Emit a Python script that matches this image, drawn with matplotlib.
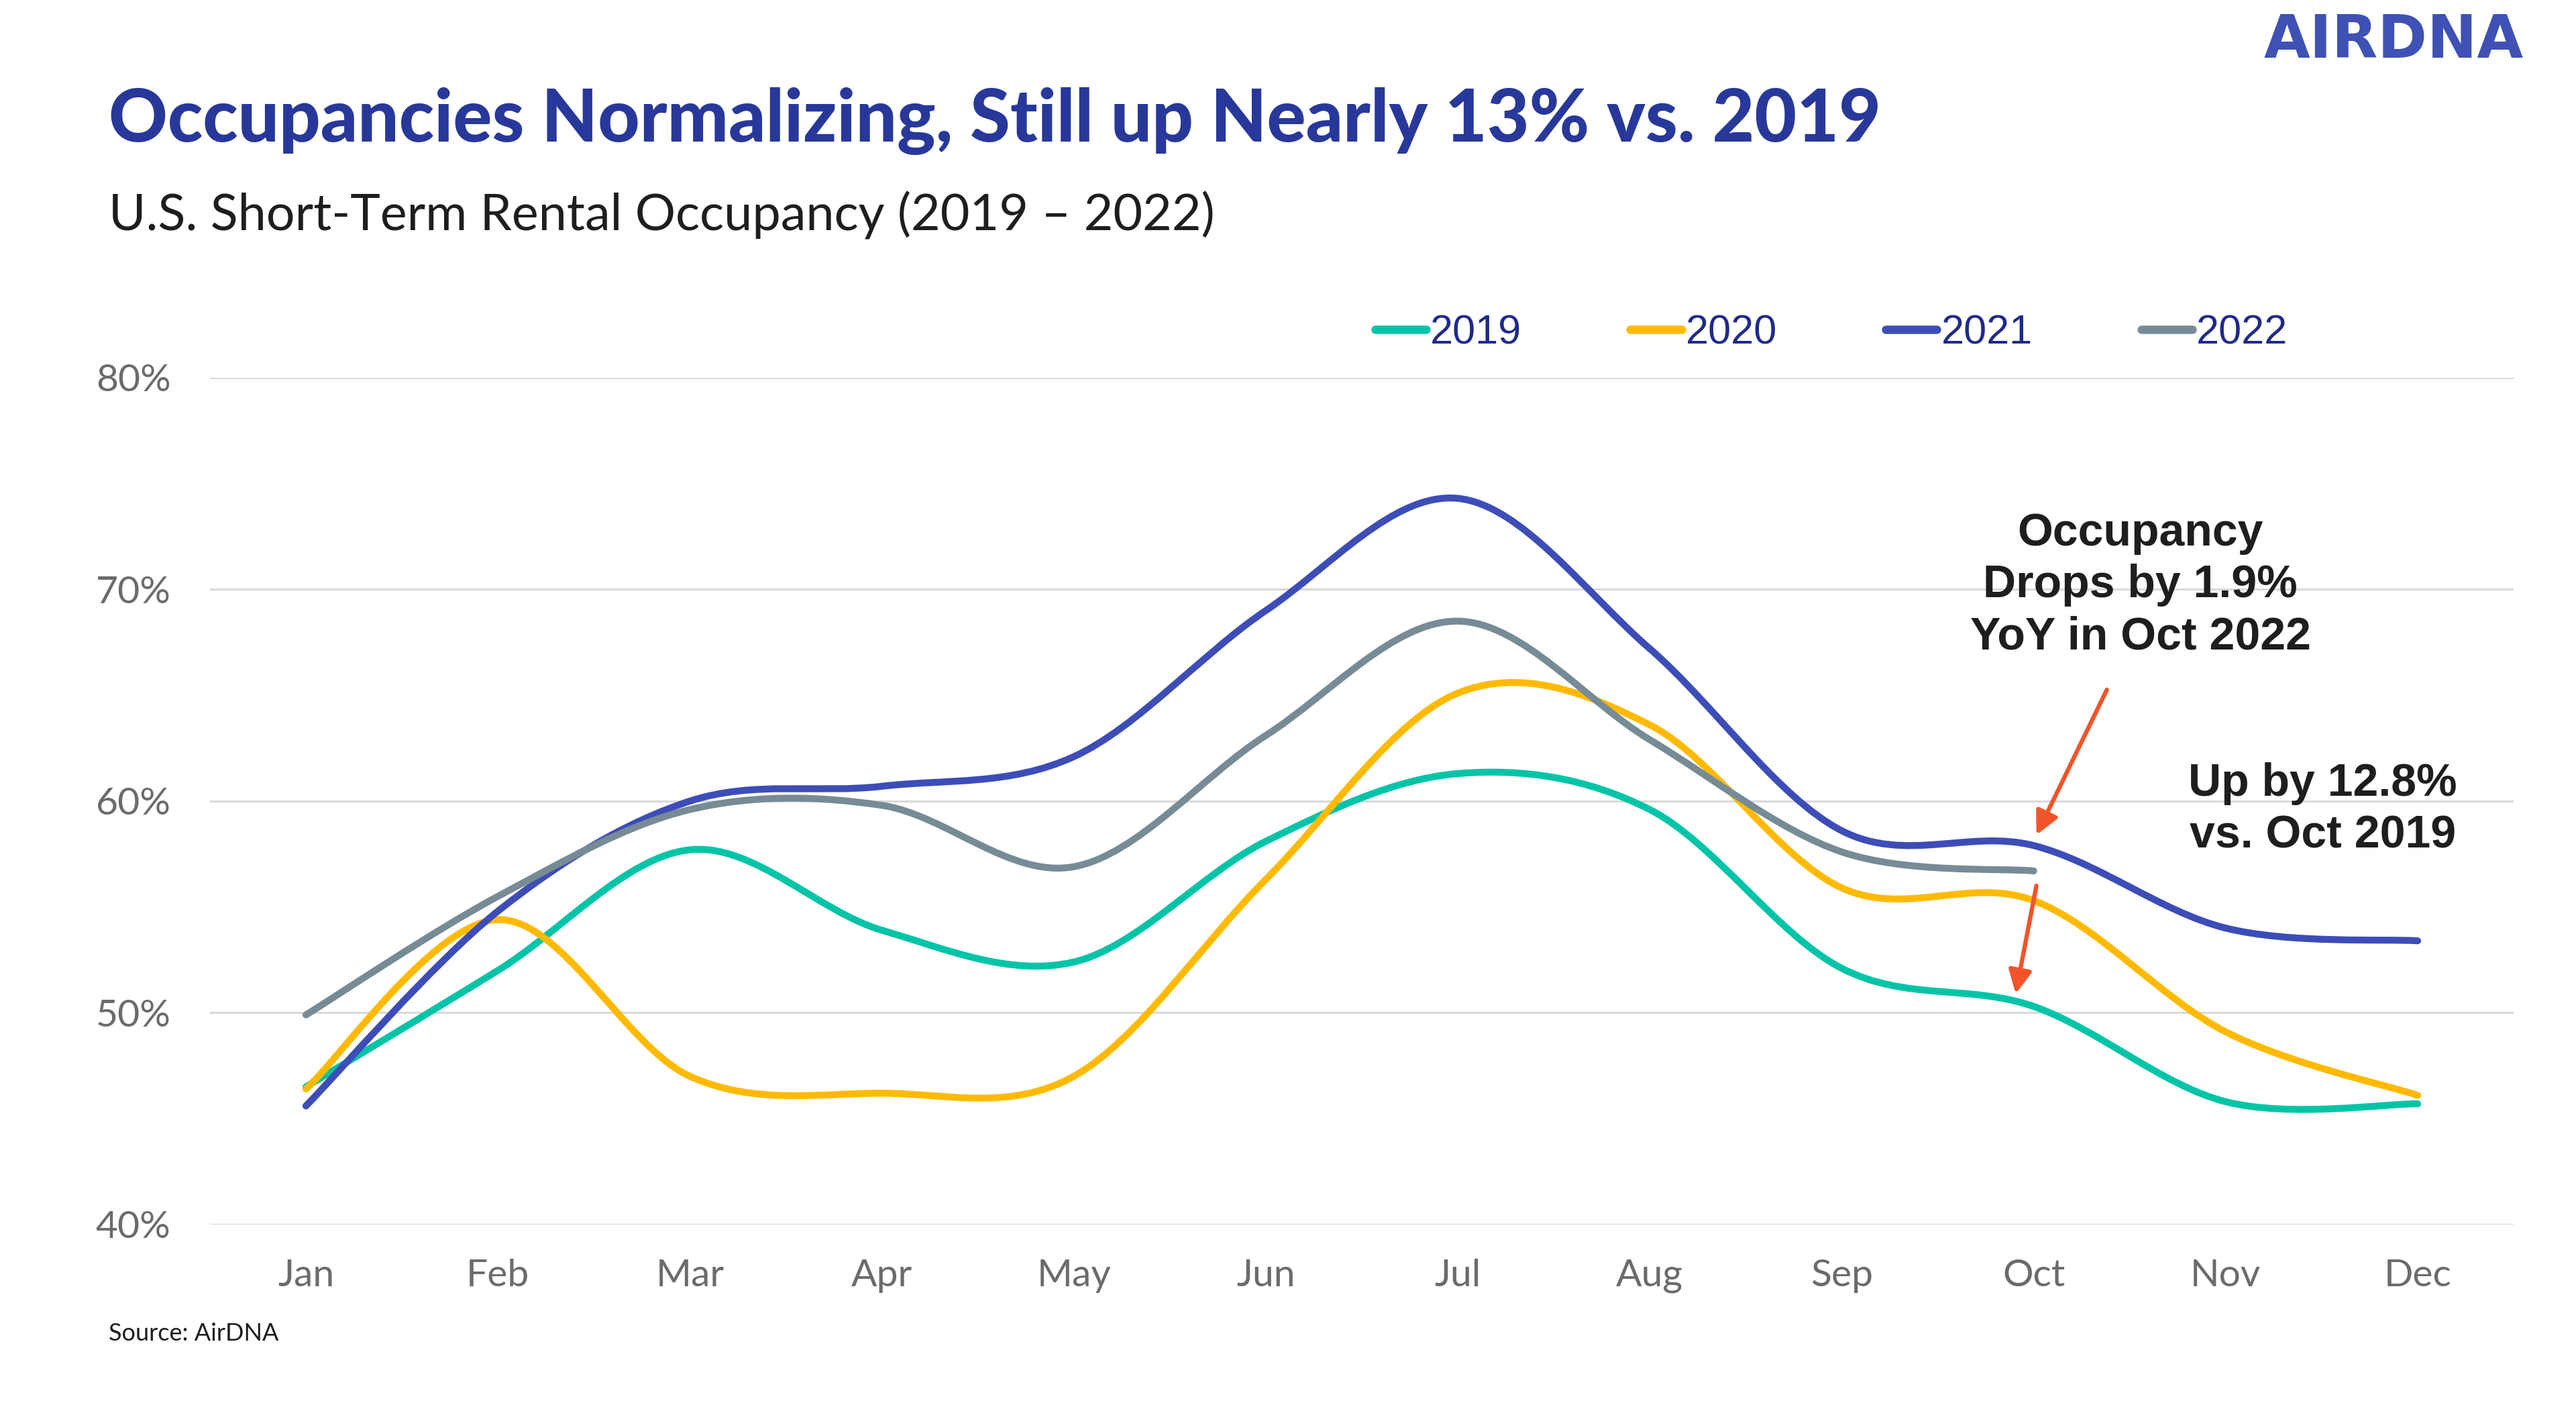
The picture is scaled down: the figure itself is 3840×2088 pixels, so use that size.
import matplotlib
matplotlib.use("Agg")
import matplotlib.pyplot as plt
from matplotlib.path import Path
from matplotlib.patches import PathPatch
from matplotlib.lines import Line2D
import numpy as np

months = ["Jan", "Feb", "Mar", "Apr", "May", "Jun", "Jul", "Aug", "Sep", "Oct", "Nov", "Dec"]
occ_2019 = [46.5, 52.0, 57.7, 53.9, 52.4, 58.1, 61.3, 59.6, 52.1, 50.3, 45.8, 45.7]
occ_2020 = [46.4, 54.4, 47.0, 46.2, 47.0, 56.3, 65.1, 63.6, 55.9, 55.3, 49.1, 46.1]
occ_2021 = [45.6, 54.8, 60.0, 60.7, 62.1, 69.0, 74.3, 67.2, 58.6, 57.9, 54.0, 53.4]
occ_2022 = [49.9, 55.5, 59.6, 59.8, 56.9, 63.1, 68.5, 62.9, 57.6, 56.7]
series_names = ["2019", "2020", "2021", "2022"]
series_values = [occ_2019, occ_2020, occ_2021, occ_2022]
series_colors = ["#00C4A7", "#FFBA00", "#3D4DB7", "#778B96"]
y_ticks = [40, 50, 60, 70, 80]

TITLE_C = "#28389A"
fig = plt.figure(figsize=(19.2, 10.44), dpi=200)
ax = fig.add_axes([0.0815, 0.126, 0.8943, 0.6044])


def smooth_path(xs, ys):
    pts = np.column_stack([xs, ys]).astype(float)
    n = len(pts)
    verts = [pts[0]]
    codes = [Path.MOVETO]
    for i in range(n - 1):
        p0 = pts[i - 1] if i > 0 else pts[i]
        p1 = pts[i]
        p2 = pts[i + 1]
        p3 = pts[i + 2] if i + 2 < n else pts[i + 1]
        c1 = p1 + (p2 - p0) / 6.0
        c2 = p2 - (p3 - p1) / 6.0
        verts += [c1, c2, p2]
        codes += [Path.CURVE4] * 3
    return Path(verts, codes)


for name, vals, col in zip(series_names, series_values, series_colors):
    xs = np.arange(len(vals))
    patch = PathPatch(smooth_path(xs, vals), facecolor="none", edgecolor=col,
                      lw=3.7, capstyle="round", joinstyle="round", zorder=3)
    ax.add_patch(patch)

ax.set_xlim(-0.5, 11.5)
ax.set_ylim(40, 80)
ax.set_yticks(y_ticks)
ax.set_yticklabels([f"{v}%" for v in y_ticks])
ax.set_xticks(range(len(months)))
ax.set_xticklabels(months)
ax.grid(axis="y", color="#D9D9D9", lw=1.1)
ax.set_axisbelow(True)
for s in ax.spines.values():
    s.set_visible(False)
ax.tick_params(axis="both", length=0, labelsize=20.5, labelcolor="#6B6B6B")
ax.tick_params(axis="y", pad=21)
ax.tick_params(axis="x", pad=18.5)
for lab in ax.get_xticklabels() + ax.get_yticklabels():
    lab.set_family("Lato")

# legend
handles = [Line2D([0], [0], color=c, lw=4.5, solid_capstyle="round") for c in series_colors]
leg = fig.legend(handles, series_names, loc="center", bbox_to_anchor=(0.711, 0.762),
                 ncol=4, frameon=False, handlelength=1.25, handletextpad=0.1,
                 columnspacing=2.65, prop={"family": "Liberation Sans", "size": 22})
for t in leg.get_texts():
    t.set_color("#1F2A8A")

# annotations
ann_font = dict(family="Liberation Sans", weight="bold", size=24.5, color="#1E1E1E")
ax.text(9.556, 70.2, "Occupancy\nDrops by 1.9%\nYoY in Oct 2022", ha="center", va="center",
        linespacing=1.27, **ann_font)
ax.text(10.506, 59.6, "Up by 12.8%\nvs. Oct 2019", ha="center", va="center",
        linespacing=1.27, **ann_font)
arrow_kw = dict(arrowstyle="-|>", color="#F4532A", lw=2.3, mutation_scale=26,
                shrinkA=0, shrinkB=0)
ax.annotate("", xy=(9.014, 58.4), xytext=(9.381, 65.26), arrowprops=arrow_kw, zorder=5)
ax.annotate("", xy=(8.906, 50.9), xytext=(9.014, 56.0), arrowprops=arrow_kw, zorder=5)

# titles
fig.text(0.0422, 0.899, "Occupancies Normalizing, Still up Nearly 13% vs. 2019",
         family="Lato", weight="black", size=39, color=TITLE_C, va="baseline", ha="left")
fig.text(0.0422, 0.8357, "U.S. Short-Term Rental Occupancy (2019 \u2013 2022)",
         family="Lato", size=27.2, color="#1E1E1E", va="baseline", ha="left")
fig.text(0.0422, 0.0431, "Source: AirDNA", family="Lato", size=13, color="#1E1E1E",
         va="baseline", ha="left")
fig.text(0.9797, 0.9588, "AIRDNA", family="DejaVu Sans", weight="bold", size=32,
         color="#3F51B5", va="baseline", ha="right")

fig.savefig("out.png", dpi=200, facecolor="white")
